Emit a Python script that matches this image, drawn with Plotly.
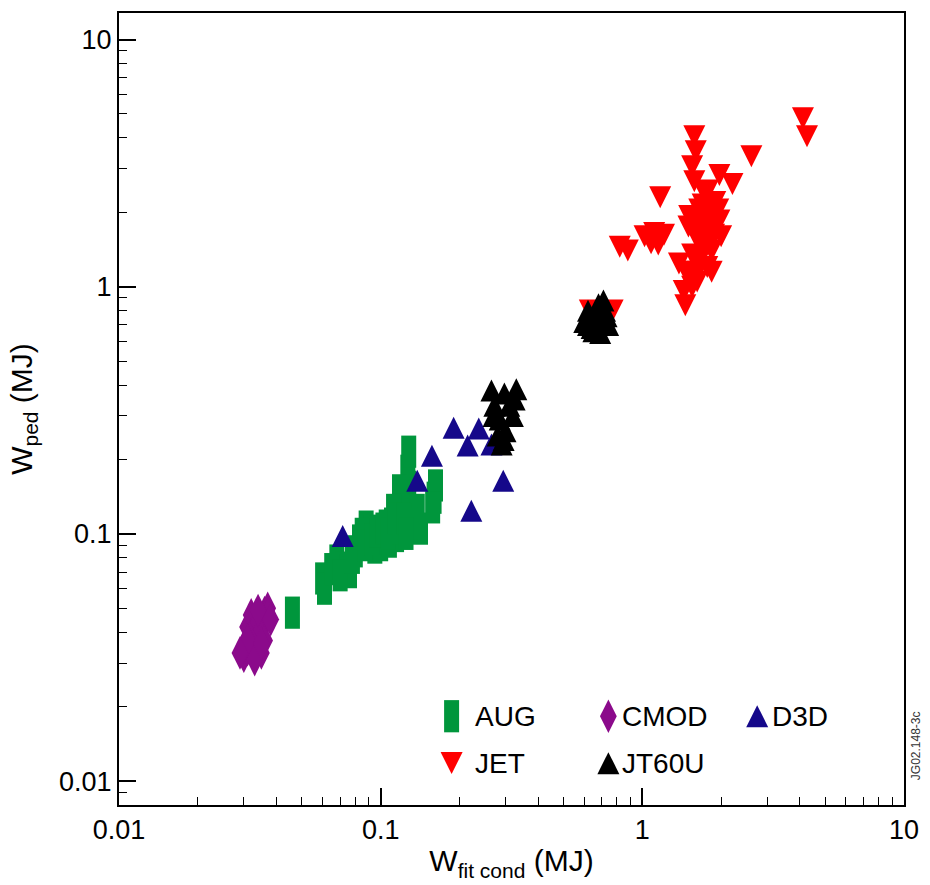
import numpy as np
import plotly.graph_objects as go

# ---------------- data ----------------
AUG_X = [0.046, 0.060, 0.061, 0.068, 0.072, 0.076, 0.080, 0.083, 0.088, 0.090, 0.092, 0.095,
         0.100, 0.104, 0.108, 0.112, 0.110, 0.115, 0.118, 0.120, 0.122, 0.125, 0.128, 0.127,
         0.128, 0.132, 0.135, 0.138, 0.160, 0.162, 0.158, 0.118, 0.112, 0.105, 0.142,
         0.065, 0.070, 0.078, 0.085, 0.087, 0.093, 0.097, 0.102, 0.107, 0.113, 0.118, 0.123,
         0.130, 0.125]
AUG_Y = [0.048, 0.066, 0.060, 0.078, 0.073, 0.070, 0.085, 0.094, 0.107, 0.098, 0.103, 0.088,
         0.090, 0.096, 0.093, 0.100, 0.110, 0.098, 0.112, 0.124, 0.132, 0.143, 0.155, 0.180,
         0.215, 0.120, 0.108, 0.125, 0.140, 0.157, 0.128, 0.150, 0.125, 0.108, 0.105,
         0.072, 0.068, 0.080, 0.100, 0.090, 0.095, 0.102, 0.105, 0.100, 0.115, 0.105, 0.115,
         0.110, 0.100]

CMOD_X = [0.030, 0.031, 0.032, 0.033, 0.034, 0.035, 0.036, 0.037, 0.033, 0.035, 0.031, 0.036,
          0.034, 0.032, 0.032, 0.034, 0.035, 0.036, 0.033, 0.030, 0.037, 0.034, 0.031, 0.035,
          0.029, 0.038]
CMOD_Y = [0.032, 0.034, 0.036, 0.038, 0.040, 0.045, 0.048, 0.050, 0.043, 0.033, 0.042, 0.046,
          0.035, 0.047, 0.039, 0.044, 0.041, 0.037, 0.031, 0.035, 0.047, 0.049, 0.037, 0.036,
          0.033, 0.045]

D3D_X = [0.0716, 0.138, 0.157, 0.190, 0.215, 0.237, 0.265, 0.294, 0.222]
D3D_Y = [0.098, 0.164, 0.207, 0.269, 0.228, 0.267, 0.230, 0.164, 0.124]

JET_X = [0.63, 0.77, 0.82, 0.88, 1.02, 1.11, 1.21, 1.08, 1.15, 1.17, 1.58, 1.60, 1.55, 1.58,
         2.61, 4.11, 4.26, 1.97, 2.21, 1.73, 1.51, 1.65, 1.80, 1.97, 1.88, 1.72, 1.58, 1.84,
         1.38, 1.51, 1.65, 1.77, 1.44, 1.46, 1.84, 1.70, 1.62, 1.50, 1.90,
         1.55, 1.70, 1.60, 1.75, 1.85, 1.65, 1.78, 1.62, 1.55, 1.50, 1.95, 2.00]
JET_Y = [0.80, 0.80, 1.45, 1.40, 1.60, 1.65, 1.62, 1.50, 1.48, 2.30, 4.06, 3.53, 3.07, 2.67,
         3.37, 4.80, 4.06, 2.83, 2.60, 2.39, 1.93, 1.85, 2.00, 1.85, 1.62, 1.55, 1.70, 1.40,
         1.24, 1.15, 1.27, 1.20, 0.96, 0.84, 1.15, 2.15, 1.05, 1.75, 2.20,
         1.35, 1.45, 1.60, 1.75, 1.70, 2.05, 2.45, 1.15, 1.00, 1.10, 2.05, 1.60]

JT60U_X = [0.265, 0.297, 0.330, 0.272, 0.310, 0.285, 0.320, 0.280, 0.300, 0.295, 0.290, 0.325,
           0.270,
           0.60, 0.62, 0.64, 0.66, 0.68, 0.70, 0.72, 0.74, 0.65, 0.69, 0.62, 0.71, 0.67, 0.73,
           0.63]
JT60U_Y = [0.380, 0.370, 0.385, 0.330, 0.330, 0.290, 0.300, 0.250, 0.260, 0.240, 0.230, 0.350,
           0.300,
           0.72, 0.80, 0.68, 0.75, 0.85, 0.72, 0.80, 0.70, 0.66, 0.65, 0.70, 0.88, 0.78, 0.76,
           0.74]

X_TICKS = [0.01, 0.1, 1, 10]
X_TICKTEXT = ["0.01", "0.1", "1", "10"]
Y_TICKS = [0.01, 0.1, 1, 10]
Y_TICKTEXT = ["0.01", "0.1", "1", "10"]

# ---------------- styling / layout ----------------
W, H = 930, 885
M_L, M_R, M_T, M_B = 119, 25, 11, 80
X_RANGE = [-2.0, 1.0]
Y_RANGE = [np.log10(0.008), np.log10(12.8)]
PLOT_H = H - M_T - M_B
PX_PER_DEC = PLOT_H / (Y_RANGE[1] - Y_RANGE[0])

FONT = "Liberation Sans, Arial, Helvetica, sans-serif"
C_AUG = "#00963c"
C_CMOD = "#8b0a8b"
C_D3D = "#15088a"
C_JET = "#ff0000"
C_JT = "#000000"

TRI = 22          # arrow-marker size (apex at anchor point)
SQ = 23           # line-ns length size
SQ_W = 15         # line-ns stroke width
DIA = 24          # diamond-tall size

# arrow symbols have their apex at the anchor: shift so the triangle is centred on the value
up_fac = 10 ** ((TRI / 2) / PX_PER_DEC)


def shifted(vals, fac):
    return [v * fac for v in vals]


fig = go.Figure()

fig.add_trace(go.Scatter(
    x=AUG_X, y=AUG_Y, mode="markers", name="AUG", showlegend=False,
    marker=dict(symbol="line-ns", size=SQ, color=C_AUG,
                line=dict(color=C_AUG, width=SQ_W))))
fig.add_trace(go.Scatter(
    x=CMOD_X, y=CMOD_Y, mode="markers", name="CMOD", showlegend=False,
    marker=dict(symbol="diamond-tall", size=DIA, color=C_CMOD, line=dict(width=0))))
fig.add_trace(go.Scatter(
    x=D3D_X, y=shifted(D3D_Y, up_fac), mode="markers", name="D3D", showlegend=False,
    marker=dict(symbol="arrow-up", size=TRI, color=C_D3D, line=dict(width=0))))
fig.add_trace(go.Scatter(
    x=JET_X, y=shifted(JET_Y, 1 / up_fac), mode="markers", name="JET", showlegend=False,
    marker=dict(symbol="arrow-down", size=TRI, color=C_JET, line=dict(width=0))))
fig.add_trace(go.Scatter(
    x=JT60U_X, y=shifted(JT60U_Y, up_fac), mode="markers", name="JT60U", showlegend=False,
    marker=dict(symbol="arrow-up", size=TRI, color=C_JT, line=dict(width=0))))

# ---------------- custom legend (in plot-area fractions) ----------------
LEG_NAMES = ["AUG", "CMOD", "D3D", "JET", "JT60U"]
LEG_SYMS = ["line-ns", "diamond-tall", "arrow-up", "arrow-down", "arrow-up"]
LEG_COLS = [C_AUG, C_CMOD, C_D3D, C_JET, C_JT]
LEG_KX = [0.4237, 0.6234, 0.8130, 0.4237, 0.6234]
LEG_KY = [0.1121, 0.1121, 0.1121, 0.0529, 0.0529]
LEG_TX = [0.4504, 0.6387, 0.8295, 0.4504, 0.6387]
half = (TRI / 2) / PLOT_H
for name, sym, col, kx, ky, tx in zip(LEG_NAMES, LEG_SYMS, LEG_COLS, LEG_KX, LEG_KY, LEG_TX):
    if sym == "line-ns":
        mk = dict(symbol=sym, size=SQ, color=col, line=dict(color=col, width=SQ_W))
        yy = ky
    elif sym == "diamond-tall":
        mk = dict(symbol=sym, size=DIA, color=col, line=dict(width=0))
        yy = ky
    elif sym == "arrow-up":
        mk = dict(symbol=sym, size=TRI, color=col, line=dict(width=0))
        yy = ky + half
    else:
        mk = dict(symbol=sym, size=TRI, color=col, line=dict(width=0))
        yy = ky - half
    fig.add_trace(go.Scatter(x=[kx], y=[yy], xaxis="x2", yaxis="y2", mode="markers",
                             marker=mk, showlegend=False, hoverinfo="skip"))
    fig.add_annotation(x=tx, y=ky, xref="paper", yref="paper", text=name,
                       showarrow=False, xanchor="left", yanchor="middle",
                       font=dict(family=FONT, size=28, color="black"))

fig.add_annotation(x=1.0153, y=0.0743, xref="paper", yref="paper", text="JG02.148-3c",
                   showarrow=False, textangle=-90, xanchor="center", yanchor="middle",
                   font=dict(family=FONT, size=12, color="#333333"))

axis_common = dict(
    type="log", showline=True, linecolor="black", linewidth=2, mirror=True,
    ticks="inside", ticklen=17, tickwidth=1.5, tickcolor="black",
    showgrid=False, zeroline=False,
    tickfont=dict(family=FONT, size=27, color="black"),
    minor=dict(ticks="inside", ticklen=8, tickwidth=1.2, tickcolor="black",
               dtick="D1", showgrid=False),
)

fig.update_layout(
    width=W, height=H,
    margin=dict(l=M_L, r=M_R, t=M_T, b=M_B),
    paper_bgcolor="white", plot_bgcolor="white",
    font=dict(family=FONT, color="black"),
    showlegend=False,
    xaxis=dict(axis_common, range=X_RANGE, tickmode="array", tickvals=X_TICKS,
               ticktext=X_TICKTEXT,
               title=dict(text="W<sub>fit cond</sub> (MJ)", standoff=6,
                          font=dict(family=FONT, size=30))),
    yaxis=dict(axis_common, range=Y_RANGE, tickmode="array", tickvals=Y_TICKS,
               ticktext=Y_TICKTEXT,
               title=dict(text="W<sub>ped</sub> (MJ)", standoff=18,
                          font=dict(family=FONT, size=30))),
    xaxis2=dict(overlaying="x", anchor="y2", range=[0, 1], visible=False),
    yaxis2=dict(overlaying="y", anchor="x2", range=[0, 1], visible=False),
)

fig.write_html("out.html")
